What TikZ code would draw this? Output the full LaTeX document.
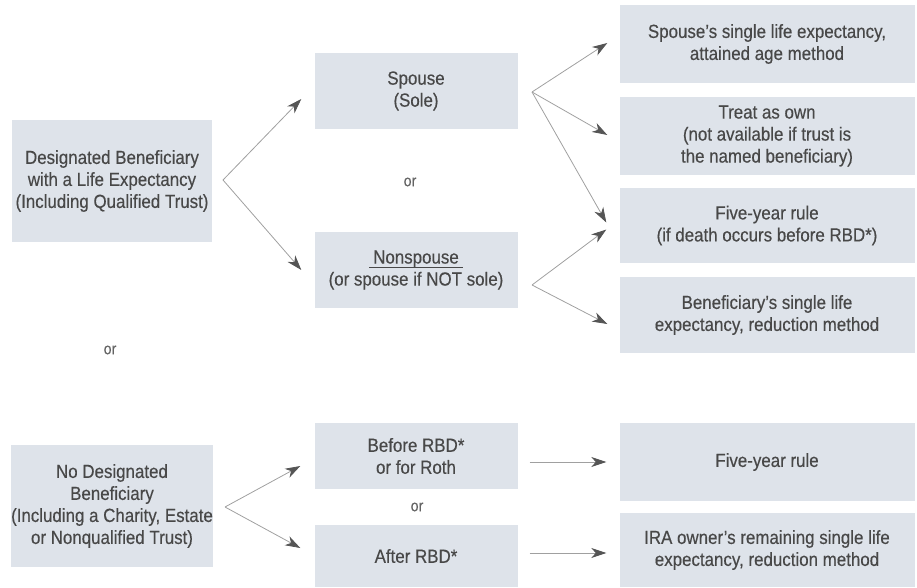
\documentclass[tikz,border=0pt]{standalone}
\usepackage{fontspec}
\setmainfont{Liberation Sans}[FakeStretch=0.89,FakeBold=0.35]
\usetikzlibrary{arrows.meta}
\definecolor{boxfill}{HTML}{DEE3EA}
\definecolor{txt}{HTML}{484848}
\definecolor{linec}{HTML}{A0A0A0}
\definecolor{tipc}{HTML}{555555}
\newsavebox{\ulbox}
\newcommand{\myul}[1]{\sbox{\ulbox}{#1}%
  \rlap{\hspace{-4pt}\rule[-4pt]{\dimexpr\wd\ulbox+8pt\relax}{0.9pt}}#1}
\begin{document}
\begin{tikzpicture}[x=1pt,y=-1pt,
  box/.style={fill=boxfill, draw=none, align=center, text=txt,
    font=\fontsize{19}{22}\selectfont, inner sep=0pt},
  orlabel/.style={text=txt!85, font=\fontsize{16}{18}\selectfont, inner sep=0pt},
  arr/.style={draw=linec, line width=0.8pt,
    -{Stealth[length=15pt,width=10pt,inset=4.5pt,color=tipc]}}]
\useasboundingbox (0,0) rectangle (917,588);

% left column
\node[box, minimum width=200pt, minimum height=122pt] (a) at (112,181)
  {Designated Beneficiary\\with a Life Expectancy\\(Including Qualified Trust)};
\node[box, minimum width=200pt, minimum height=122pt] (nodb) at (112,506)
  {No Designated\\Beneficiary\\(Including a Charity, Estate\\or Nonqualified Trust)};
\node[orlabel] (or1) at (110,350) {or};

% middle column
\node[box, minimum width=203pt, minimum height=76pt] (sp) at (416,91)
  {Spouse\\(Sole)};
\node[box, minimum width=203pt, minimum height=76pt] (ns) at (416,270)
  {\myul{Nonspouse}\\(or spouse if NOT sole)};
\node[orlabel] (or2) at (410,182) {or};
\node[box, minimum width=203pt, minimum height=66pt] (bf) at (416,456)
  {Before RBD*\\or for Roth};
\node[box, minimum width=203pt, minimum height=62pt] (af) at (416,556)
  {After RBD*};
\node[orlabel] (or3) at (417,507) {or};

% right column
\node[box, minimum width=295pt, minimum height=78pt] (r1) at (767,44)
  {Spouse's single life expectancy,\\attained age method};
\node[box, minimum width=295pt, minimum height=78pt] (r2) at (767,136)
  {Treat as own\\(not available if trust is\\the named beneficiary)};
\node[box, minimum width=295pt, minimum height=75pt] (r3) at (767,225.5)
  {Five-year rule\\(if death occurs before RBD*)};
\node[box, minimum width=295pt, minimum height=76pt] (r4) at (767,315)
  {Beneficiary's single life\\expectancy, reduction method};
\node[box, minimum width=295pt, minimum height=78pt] (f5) at (767,462)
  {\raisebox{-9pt}{Five-year rule}};
\node[box, minimum width=295pt, minimum height=74pt] (ira) at (767,550)
  {IRA owner's remaining single life\\expectancy, reduction method};

% fork origins
\coordinate (aO) at (223,180);
\coordinate (sO) at (532,92);
\coordinate (nO) at (532,285);
\coordinate (dO) at (225,507);

% connectors
\draw[arr] (aO) -- ([shift={(-13,8)}]sp.west);
\draw[arr] (aO) -- ([shift={(-13,0)}]ns.west);
\draw[arr] (sO) -- ([shift={(-12,-1)}]r1.west);
\draw[arr] (sO) -- ([shift={(-12,-1)}]r2.west);
\draw[arr] (sO) -- ([shift={(-13,-3)}]r3.west);
\draw[arr] (nO) -- ([shift={(-13,4)}]r3.west);
\draw[arr] (nO) -- ([shift={(-12,9)}]r4.west);
\draw[arr] (dO) -- ([shift={(-14,10)}]bf.west);
\draw[arr] (dO) -- ([shift={(-14,-8)}]af.west);
\draw[arr] ([shift={(12,6)}]bf.east) -- ([shift={(-13,0)}]f5.west);
\draw[arr] ([shift={(12,-3)}]af.east) -- ([shift={(-13,3)}]ira.west);
\end{tikzpicture}
\end{document}
